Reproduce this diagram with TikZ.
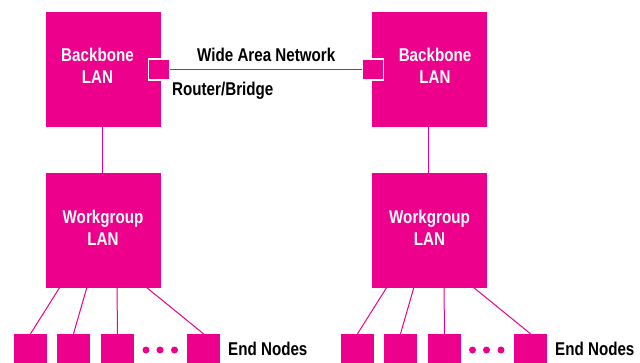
\documentclass[tikz,border=0pt]{standalone}
\usepackage{fontspec}
\setmainfont[FakeStretch=0.82]{Liberation Sans}
\definecolor{mag}{HTML}{EC008C}
\begin{document}
\begin{tikzpicture}[x=1pt,y=-1pt,
  lanbox/.style={fill=mag,draw=none,minimum width=115pt,minimum height=115pt,inner sep=0pt},
  endbox/.style={fill=mag,draw=none,minimum width=33pt,minimum height=33pt,inner sep=0pt},
  rbox/.style={fill=mag,draw=white,line width=1.3pt,minimum width=21pt,minimum height=21pt,inner sep=0pt},
  wtext/.style={text=white,font=\bfseries\fontsize{18.5}{21.7}\selectfont,align=center,inner sep=0pt},
  btext/.style={text=black,font=\bfseries\fontsize{18.5}{21.7}\selectfont,inner sep=0pt},
  link/.style={draw=mag,line width=1pt},
  dot/.style={circle,fill=mag,minimum size=7pt,inner sep=0pt}]
\clip (0,0) rectangle (640,362);
% LAN boxes
\node[lanbox] (bbL) at (103.5,69.5) {};
\node[lanbox] (bbR) at (429.5,69.5) {};
\node[lanbox] (wgL) at (103.5,230) {};
\node[lanbox] (wgR) at (429.5,230) {};
\node[wtext,anchor=base] at (97.5,83.3) {Backbone\\LAN};
\node[wtext,anchor=base] at (435,83.3) {Backbone\\LAN};
\node[wtext,anchor=base] at (103,245) {Workgroup\\LAN};
\node[wtext,anchor=base] at (429.5,245) {Workgroup\\LAN};
% routers
\node[rbox] (rL) at (159,69.5) {};
\node[rbox] (rR) at (373,69.5) {};
\draw[link] (rL.east) -- (rR.west);
\node[btext,anchor=base west] at (197,61.7) {Wide Area Network};
\node[btext,anchor=base west] at (172,95.7) {Router/Bridge};
% backbone to workgroup
\draw[link] (102,127) -- (102,173);
\draw[link] (428,127) -- (428,173);
% end nodes left
\node[endbox] (eL1) at (30.5,350.5) {};
\node[endbox] (eL2) at (73.5,350.5) {};
\node[endbox] (eL3) at (117.5,350.5) {};
\node[endbox] (eL4) at (203.5,350.5) {};
\node[dot] (dL1) at (146,350) {};
\node[dot] (dL2) at (160,350) {};
\node[dot] (dL3) at (174.5,350) {};
\node[btext,anchor=base west] at (228,355) {End Nodes};
\coordinate (tL1) at (60,287);
\coordinate (tL2) at (87,287);
\coordinate (tL3) at (117,287);
\coordinate (tL4) at (146,287);
\draw[link] (tL1) -- (eL1.north);
\draw[link] (tL2) -- (eL2.north);
\draw[link] (tL3) -- (eL3.north);
\draw[link] (tL4) -- (eL4.north);
% end nodes right
\node[endbox] (eR1) at (357.5,350.5) {};
\node[endbox] (eR2) at (400.5,350.5) {};
\node[endbox] (eR3) at (444.5,350.5) {};
\node[endbox] (eR4) at (530.5,350.5) {};
\node[dot] (dR1) at (472.5,350) {};
\node[dot] (dR2) at (486.5,350) {};
\node[dot] (dR3) at (501,350) {};
\node[btext,anchor=base west] at (555,355) {End Nodes};
\coordinate (tR1) at (387,287);
\coordinate (tR2) at (414,287);
\coordinate (tR3) at (444,287);
\coordinate (tR4) at (473,287);
\draw[link] (tR1) -- (eR1.north);
\draw[link] (tR2) -- (eR2.north);
\draw[link] (tR3) -- (eR3.north);
\draw[link] (tR4) -- (eR4.north);
\end{tikzpicture}
\end{document}
